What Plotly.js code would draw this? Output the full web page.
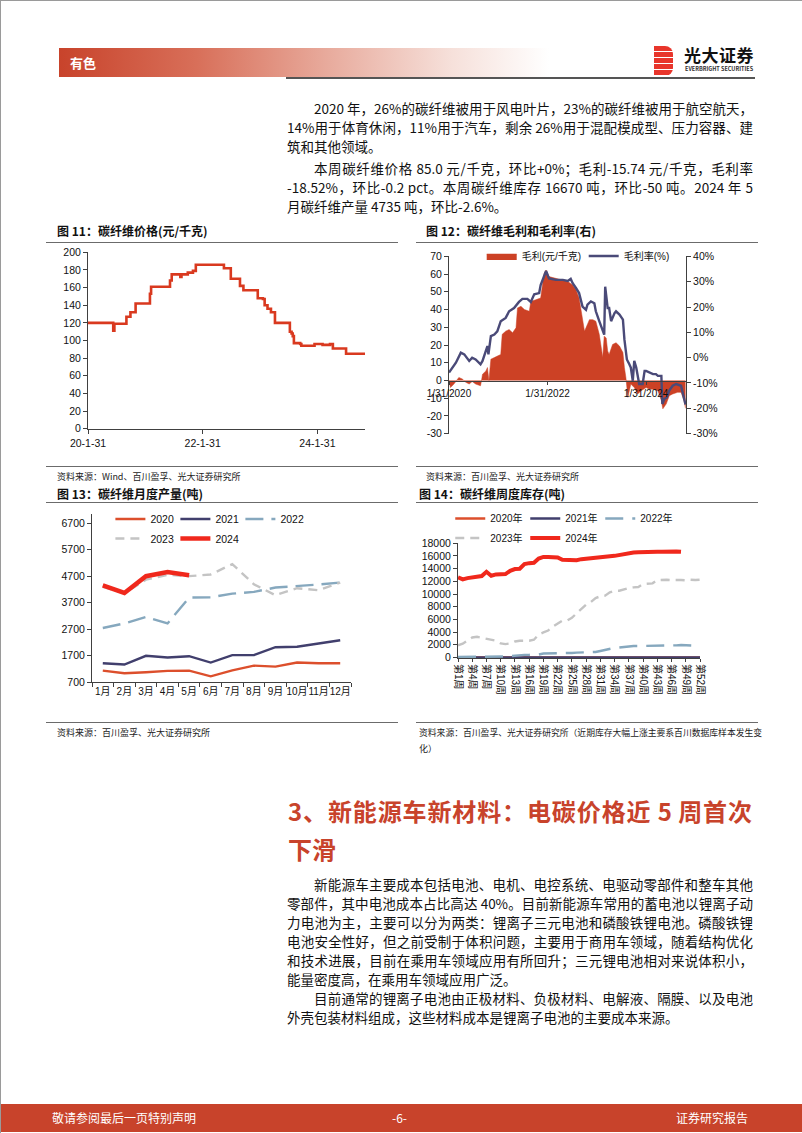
<!DOCTYPE html>
<html>
<head>
<meta charset="utf-8">
<script src="https://cdn.plot.ly/plotly-3.0.1.min.js"></script>
<style>
html, body { margin: 0; padding: 0; background: #fff; }
#page { position: relative; width: 802px; height: 1133px; overflow: hidden; box-sizing: border-box;
  border-left: 1px solid #9a9a9a; border-top: 1px solid #9a9a9a;
  font-family: "Noto Sans CJK SC", "Noto Sans", sans-serif; color: #111; }
.abs { position: absolute; }
.band { left: 58px; top: 47px; width: 490px; height: 29px;
  background: linear-gradient(90deg, #c8432b 0%, #d86f59 28%, #e8ab9d 55%, #f6e0da 80%, #fff 100%); }
.band span { position: absolute; left: 11px; top: 0; line-height: 29px; font-size: 13px; font-weight: 700; color: #fff; }
.logo { left: 653px; top: 45px; width: 19px; height: 30px;
  background: repeating-linear-gradient(180deg, #e8352b 0 5px, #fff 5px 6px); border-radius: 0 8px 8px 0; }
.ln { position: absolute; left: 286px; width: 466px; height: 19px; line-height: 19px; font-size: 13.5px;
  text-align: justify; text-align-last: justify; }
.ln.last { text-align-last: left; }
.ln.ind { padding-left: 27px; width: 439px; }
.head { position: absolute; left: 287px; width: 464px; font-size: 24px; font-weight: 700; color: #c8432b;
  height: 38px; line-height: 38px; text-align: justify; text-align-last: justify; }
.ctitle { position: absolute; font-size: 12px; font-weight: 700; height: 16px; line-height: 16px; }
.rule { position: absolute; height: 1px; background: #6b6b6b; }
.src { position: absolute; font-size: 9px; height: 13px; line-height: 13px; color: #222; white-space: nowrap; }
.chart { position: absolute; }
.foot { left: 0; top: 1103px; width: 802px; height: 28px; background: #c8432b; color: #fff; font-size: 12px; }
.foot span { position: absolute; top: 0; line-height: 28px; }
</style>
</head>
<body>
<div id="page">
  <div class="abs band"><span>有色</span></div>
  <div class="abs logo"></div>
  <div class="abs" style="left:683px;top:43px;font-size:17px;font-weight:700;line-height:22px;letter-spacing:0.5px;">光大证券</div>
  <div class="abs" style="left:684px;top:64px;font-size:5.5px;font-weight:700;line-height:8px;color:#333;">EVERBRIGHT SECURITIES</div>
  <div class="abs" style="left:285px;top:76px;width:469px;height:2px;background:#555;"></div>

  <div class="ln ind" style="top:98px;">2020 年，26%的碳纤维被用于风电叶片，23%的碳纤维被用于航空航天，</div>
  <div class="ln" style="top:117px;">14%用于体育休闲，11%用于汽车，剩余 26%用于混配模成型、压力容器、建</div>
  <div class="ln last" style="top:136px;">筑和其他领域。</div>
  <div class="ln ind" style="top:158px;">本周碳纤维价格 85.0 元/千克，环比+0%；毛利-15.74 元/千克，毛利率</div>
  <div class="ln" style="top:177px;">-18.52%，环比-0.2 pct。本周碳纤维库存 16670 吨，环比-50 吨。2024 年 5</div>
  <div class="ln last" style="top:196px;">月碳纤维产量 4735 吨，环比-2.6%。</div>

  <div class="ctitle" style="left:56px;top:222px;">图 11：碳纤维价格(元/千克)</div>
  <div class="rule" style="left:45px;top:241px;width:352px;"></div>
  <div id="c11" class="chart" style="left:45px;top:245px;width:340px;height:215px;"></div>
  <div class="rule" style="left:45px;top:465px;width:352px;"></div>
  <div class="src" style="left:56px;top:469px;">资料来源：Wind、百川盈孚、光大证券研究所</div>

  <div class="ctitle" style="left:425px;top:222px;">图 12：碳纤维毛利和毛利率(右)</div>
  <div class="rule" style="left:415px;top:241px;width:342px;"></div>
  <div id="c12" class="chart" style="left:415px;top:245px;width:320px;height:215px;"></div>
  <div class="rule" style="left:415px;top:465px;width:342px;"></div>
  <div class="src" style="left:425px;top:469px;">资料来源：百川盈孚、光大证券研究所</div>

  <div class="ctitle" style="left:56px;top:485px;">图 13：碳纤维月度产量(吨)</div>
  <div class="rule" style="left:45px;top:501px;width:352px;"></div>
  <div id="c13" class="chart" style="left:45px;top:505px;width:320px;height:210px;"></div>
  <div class="rule" style="left:45px;top:721px;width:352px;"></div>
  <div class="src" style="left:56px;top:725px;">资料来源：百川盈孚、光大证券研究所</div>

  <div class="ctitle" style="left:418px;top:485px;">图 14：碳纤维周度库存(吨)</div>
  <div class="rule" style="left:415px;top:501px;width:342px;"></div>
  <div id="c14" class="chart" style="left:415px;top:505px;width:300px;height:215px;"></div>
  <div class="rule" style="left:415px;top:721px;width:342px;"></div>
  <div class="src" style="left:418px;top:725px;font-size:8.8px;">资料来源：百川盈孚、光大证券研究所（近期库存大幅上涨主要系百川数据库样本发生变</div>
  <div class="src" style="left:418px;top:741px;">化）</div>

  <div class="head" style="top:791px;">3、新能源车新材料：电碳价格近 5 周首次</div>
  <div class="head" style="top:829px;text-align-last:left;">下滑</div>

  <div class="ln ind" style="top:874px;">新能源车主要成本包括电池、电机、电控系统、电驱动零部件和整车其他</div>
  <div class="ln" style="top:893px;">零部件，其中电池成本占比高达 40%。目前新能源车常用的蓄电池以锂离子动</div>
  <div class="ln" style="top:912px;">力电池为主，主要可以分为两类：锂离子三元电池和磷酸铁锂电池。磷酸铁锂</div>
  <div class="ln" style="top:931px;">电池安全性好，但之前受制于体积问题，主要用于商用车领域，随着结构优化</div>
  <div class="ln" style="top:950px;">和技术进展，目前在乘用车领域应用有所回升；三元锂电池相对来说体积小，</div>
  <div class="ln last" style="top:969px;">能量密度高，在乘用车领域应用广泛。</div>
  <div class="ln ind" style="top:988px;">目前通常的锂离子电池由正极材料、负极材料、电解液、隔膜、以及电池</div>
  <div class="ln last" style="top:1007px;">外壳包装材料组成，这些材料成本是锂离子电池的主要成本来源。</div>

  <div class="abs foot">
    <span style="left:51px;">敬请参阅最后一页特别声明</span>
    <span style="left:391px;">-6-</span>
    <span style="left:675px;">证券研究报告</span>
  </div>
</div>

<script>
// 图11 碳纤维价格 (x in decimal years)
const priceX = [2020.08,2020.43,2020.50,2020.52,2020.54,2020.72,2020.75,2020.82,2020.91,2021.14,
  2021.16,2021.18,2021.48,2021.51,2021.54,2021.67,2021.69,2021.71,2021.82,2021.91,
  2021.96,2022.43,2022.45,2022.56,2022.57,2022.70,2022.73,2022.79,2023.02,2023.04,
  2023.13,2023.16,2023.21,2023.27,2023.34,2023.57,2023.60,2023.63,2023.65,2023.67,
  2023.78,2023.80,2024.01,2024.03,2024.15,2024.17,2024.30,2024.35,2024.56,2024.58,2024.91];
const price = [120,120,120,111,119,119,127,132,142,142,
  153,161,161,168,175,175,172,175,177,179,
  186,186,182,182,170,170,162,157,157,148,
  147,140,136,132,120,120,110,108,105,97,
  96,94,94,96,96,95,96,91,91,85,85];
const priceTicks = [2020.08, 2022.08, 2024.08];
const priceTickText = ['20-1-31', '22-1-31', '24-1-31'];
const priceYTicks = [0,20,40,60,80,100,120,140,160,180,200];

// 图12 毛利 (元/千克) 和 毛利率 (%)
const marginX = [2020.08,2020.11,2020.18,2020.28,2020.35,2020.42,2020.49,2020.55,2020.62,2020.72,
  2020.74,2020.76,2020.83,2020.86,2020.89,2020.93,2021.00,2021.06,2021.13,2021.16,
  2021.23,2021.30,2021.37,2021.44,2021.47,2021.54,2021.61,2021.71,2021.74,2021.84,
  2021.94,2022.01,2022.05,2022.11,2022.25,2022.39,2022.49,2022.59,2022.66,2022.72,
  2022.77,2022.83,2022.86,2022.93,2023.00,2023.06,2023.13,2023.20,2023.23,2023.27,
  2023.30,2023.33,2023.40,2023.47,2023.54,2023.61,2023.64,2023.67,2023.71,2023.77,
  2023.84,2023.91,2023.98,2024.08,2024.15,2024.22,2024.32,2024.39,2024.42,2024.49,
  2024.55,2024.62,2024.72,2024.79,2024.85,2024.88];
const margin = [0,-4,-2,1.7,0.8,-1,-2,-0.6,-2,-3,
  0,3.5,5.4,7.3,0,12,12.9,13.8,14.7,26,
  27.8,28.7,26.9,29.7,40.9,41.8,40,39,44.6,45.5,
  46.5,60.4,62.3,58.6,57.6,56.7,55.8,53.9,51,46.5,
  37,27.8,29.7,34.3,34.3,33.4,26,12.9,25,24,
  16.6,14.7,20.3,21.3,19.4,15.7,7.3,1.7,-9.5,-2,
  -4,-7.6,-5.8,-4,-4.9,-4.9,-5.8,-11.4,-16,-13.2,
  -8.6,-7.6,-6.7,-6.7,-11.4,-15.7];
const rateX = [2020.08,2020.15,2020.22,2020.32,2020.39,2020.49,2020.55,2020.62,2020.72,2020.76,
  2020.83,2020.86,2020.88,2020.93,2021.00,2021.06,2021.13,2021.23,2021.30,2021.40,
  2021.50,2021.57,2021.67,2021.74,2021.81,2021.91,2021.94,2022.01,2022.05,2022.11,
  2022.25,2022.39,2022.49,2022.55,2022.59,2022.66,2022.72,2022.79,2022.86,2022.89,
  2022.96,2023.03,2023.06,2023.13,2023.20,2023.23,2023.25,2023.28,2023.30,2023.33,
  2023.37,2023.44,2023.47,2023.54,2023.61,2023.64,2023.69,2023.74,2023.77,2023.81,
  2023.84,2023.88,2023.94,2024.01,2024.05,2024.08,2024.15,2024.22,2024.28,2024.32,
  2024.39,2024.41,2024.45,2024.50,2024.55,2024.62,2024.69,2024.79,2024.83,2024.88];
const rate = [-5.9,-3.9,-2,2,1.3,-1.3,0,-0.7,-2.6,-1.3,
  3.3,4.6,1.3,8.5,9.1,10.4,14.4,15.7,18.3,19.6,
  22,23.2,23.2,22,25,25.5,28.7,32,34.2,31.3,
  30.7,30.7,30.3,31.1,29.4,27.4,25.5,20.2,18.9,20.9,
  22.2,21.5,18.3,14.4,10.4,9.1,28,20.9,19.6,19.6,
  14.4,17.6,18.3,17,15,7.2,-0.7,-2.6,-3.9,-9.1,
  -1.3,-3.9,-10.4,-10.4,-5.2,-5.2,-5.9,-6.5,-6.5,-7.2,
  -7.2,-18.3,-16.3,-15.7,-13,-11.1,-10.4,-11.1,-14.4,-18.5];
const marginTicks = [2020.08, 2022.08, 2024.08];
const marginTickText = ['1/31/2020', '1/31/2022', '1/31/2024'];
const leftTicks = [-30,-20,-10,0,10,20,30,40,50,60,70];
const leftTickText = ['-30','-20','-10','0','10','20','30','40','50','60','70'];
const rightTicks = [-30,-20,-10,0,10,20,30,40];
const rightTickText = ['-30%','-20%','-10%','0%','10%','20%','30%','40%'];

// 图13 月度产量 (吨)
const months = ['1月','2月','3月','4月','5月','6月','7月','8月','9月','10月','11月','12月'];
const prod2020 = [1130,1030,1070,1120,1130,915,1140,1320,1280,1435,1410,1410];
const prod2021 = [1410,1360,1690,1625,1675,1435,1715,1715,2015,2030,2155,2280];
const prod2022 = [2740,2915,3155,2915,3890,3900,4040,4105,4270,4320,4385,4460];
const prod2023 = [4300,4060,4570,4750,4700,4765,5155,4395,3980,4245,4170,4460];
const prod2024 = [4350,4065,4700,4860,4735];
const prodTicks = [700,1700,2700,3700,4700,5700,6700];

// 图14 周度库存 (吨)
const weeks = [1,2,3,4,5,6,7,8,9,10,11,12,13,14,15,16,17,18,19,20,21,22,23,24,25,26,
  27,28,29,30,31,32,33,34,35,36,37,38,39,40,41,42,43,44,45,46,47,48,49,50,51,52];
const inv2020 = [0,0,0,0,0,0,0,0,0,0,0,0,0,0,0,0,0,0,0,0,0,0,0,0,0,0,
  0,0,0,0,0,0,0,0,0,0,0,0,0,0,0,0,0,0,0,0,0,0,0,0,0,0];
const inv2021 = [0,0,0,0,0,0,0,0,0,0,0,0,0,0,0,0,0,0,0,0,0,0,0,0,0,0,
  0,0,0,0,0,0,0,0,0,0,0,0,0,0,0,0,0,0,0,0,0,0,0,0,0,0];
const inv2022 = [50,50,50,50,50,50,50,50,50,50,150,200,300,400,400,400,400,450,600,600,
  600,600,650,700,700,750,750,800,800,850,1000,1200,1400,1500,1550,1650,1750,1800,1800,1800,
  1850,1900,1900,1900,1900,1900,1900,1950,1950,1950,1850,1750];
const inv2023 = [1890,2150,2670,3140,3250,3090,2930,2880,2620,2200,2090,2200,2510,2620,2620,2620,2780,3610,3930,4240,
  4870,5390,5810,5810,6230,6960,7640,8330,8740,9370,9630,9740,10260,10520,10520,10790,10940,11050,11100,11570,
  11570,11680,12200,12250,12250,12200,12250,12200,12150,12250,12200,12250];
const inv2024 = [12620,12300,12510,12670,12780,12830,13500,12880,13090,13090,13140,13670,13930,13980,14710,14870,14920,15600,15860,15860,
  15860,15760,15390,15340,15240,15340,15500,15600,15650,15650,15760,15860,15970,16020,16180,16340,16440,16550,16600,16650,
  16600,16650,16650,16650,16700,16750,16720,16670];
const weekTicks = [1,4,7,10,13,16,19,22,25,28,31,34,37,40,43,46,49,52];
const weekTickText = ['第1周','第4周','第7周','第10周','第13周','第16周','第19周','第22周','第25周',
  '第28周','第31周','第34周','第37周','第40周','第43周','第46周','第49周','第52周'];
const invTicks = [0,2000,4000,6000,8000,10000,12000,14000,16000,18000];

const FONT = 'Liberation Sans, Arial, Noto Sans CJK SC, sans-serif';
const AXIS = {
  showline: true, linecolor: '#404040', linewidth: 1,
  ticks: 'outside', ticklen: 4, tickcolor: '#404040', tickwidth: 1,
  showgrid: false, zeroline: false, fixedrange: true, automargin: false,
  tickfont: { size: 10.5, color: '#111', family: FONT },
};
const BASE = {
  paper_bgcolor: 'rgba(0,0,0,0)', plot_bgcolor: 'rgba(0,0,0,0)',
  font: { family: FONT, color: '#111' },
};
const CFG = { staticPlot: true, displayModeBar: false };

Plotly.newPlot('c11', [{
  x: priceX, y: price, type: 'scatter', mode: 'lines',
  line: { color: '#d9391f', width: 2.6, shape: 'hv' },
}], {
  ...BASE, width: 340, height: 215, showlegend: false,
  margin: { l: 42, r: 21, t: 6, b: 32, autoexpand: false },
  xaxis: { ...AXIS, range: [2020.08, 2024.91], tickvals: priceTicks, ticktext: priceTickText },
  yaxis: { ...AXIS, range: [-0.4, 200.4], tickvals: priceYTicks },
}, CFG);

Plotly.newPlot('c12', [{
  x: marginX, y: margin, name: '毛利(元/千克)', type: 'scatter', mode: 'lines',
  fill: 'tozeroy', fillcolor: '#cc4125', line: { color: '#cc4125', width: 0.5 },
}, {
  x: rateX, y: rate, name: '毛利率(%)', type: 'scatter', mode: 'lines', yaxis: 'y2',
  line: { color: '#4a4a78', width: 2.4 },
}], {
  ...BASE, width: 320, height: 215,
  margin: { l: 33, r: 50, t: 10, b: 27, autoexpand: false },
  xaxis: { ...AXIS, range: [2020.08, 2024.89], anchor: 'free', position: 0.3, ticklen: 3,
    tickvals: marginTicks, ticktext: marginTickText, tickfont: { ...AXIS.tickfont, size: 10 } },
  yaxis: { ...AXIS, range: [-30.2, 70.2], tickvals: leftTicks, ticktext: leftTickText },
  yaxis2: { ...AXIS, range: [-30.14, 40.14], overlaying: 'y', side: 'right', tickvals: rightTicks, ticktext: rightTickText },
  legend: { orientation: 'h', x: 0.138, xanchor: 'left', y: 1.0, yanchor: 'middle',
    bgcolor: 'rgba(0,0,0,0)', font: { size: 10, family: FONT }, entrywidth: 57, itemwidth: 30 },
}, CFG);

Plotly.newPlot('c13', [
  { x: months, y: prod2020, name: '2020', type: 'scatter', mode: 'lines', line: { color: '#dc4f2c', width: 2.4 } },
  { x: months, y: prod2021, name: '2021', type: 'scatter', mode: 'lines', line: { color: '#413f6d', width: 2.4 } },
  { x: months, y: prod2022, name: '2022', type: 'scatter', mode: 'lines', line: { color: '#86a8be', width: 2.4, dash: '18px,8px' } },
  { x: months, y: prod2023, name: '2023', type: 'scatter', mode: 'lines', legend: 'legend2', line: { color: '#c4c4c4', width: 2.4, dash: '9px,6px' } },
  { x: months, y: prod2024, name: '2024', type: 'scatter', mode: 'lines', legend: 'legend2', line: { color: '#f0281c', width: 4.5 } },
], {
  ...BASE, width: 320, height: 210,
  margin: { l: 46, r: 15, t: 8, b: 34, autoexpand: false },
  xaxis: { ...AXIS, type: 'category', categoryarray: months, range: [-0.5, 11.5], tickson: 'boundaries',
    tickangle: 0, tickfont: { ...AXIS.tickfont, size: 10 } },
  yaxis: { ...AXIS, range: [700, 7050], tickvals: prodTicks },
  legend: { orientation: 'h', x: 0.071, xanchor: 'left', y: 0.97, yanchor: 'middle',
    bgcolor: 'rgba(0,0,0,0)', font: { size: 10.5, family: FONT }, entrywidth: 20, itemwidth: 30 },
  legend2: { orientation: 'h', x: 0.071, xanchor: 'left', y: 0.854, yanchor: 'middle',
    bgcolor: 'rgba(0,0,0,0)', font: { size: 10.5, family: FONT }, entrywidth: 20, itemwidth: 30 },
}, CFG);

Plotly.newPlot('c14', [
  { x: weeks, y: inv2020, name: '2020年', type: 'scatter', mode: 'lines', line: { color: '#dc4f2c', width: 2.4 } },
  { x: weeks, y: inv2021, name: '2021年', type: 'scatter', mode: 'lines', line: { color: '#413f6d', width: 2.4 } },
  { x: weeks, y: inv2022, name: '2022年', type: 'scatter', mode: 'lines', line: { color: '#86a8be', width: 2.4, dash: '18px,9px' } },
  { x: weeks, y: inv2023, name: '2023年', type: 'scatter', mode: 'lines', legend: 'legend2', line: { color: '#c4c4c4', width: 2.4, dash: '9px,6px' } },
  { x: weeks, y: inv2024, name: '2024年', type: 'scatter', mode: 'lines', legend: 'legend2', line: { color: '#f0281c', width: 4 } },
], {
  ...BASE, width: 300, height: 215,
  margin: { l: 42, r: 16, t: 37, b: 63, autoexpand: false },
  xaxis: { ...AXIS, range: [1, 52], tickvals: weekTicks, ticktext: weekTickText, tickangle: 90, ticklen: 3,
    tickfont: { ...AXIS.tickfont, size: 10 } },
  yaxis: { ...AXIS, range: [-100, 18050], tickvals: invTicks, tickformat: 'd' },
  legend: { orientation: 'h', x: -0.032, xanchor: 'left', y: 1.213, yanchor: 'middle',
    bgcolor: 'rgba(0,0,0,0)', font: { size: 10, family: FONT }, entrywidth: 30, itemwidth: 30 },
  legend2: { orientation: 'h', x: -0.032, xanchor: 'left', y: 1.043, yanchor: 'middle',
    bgcolor: 'rgba(0,0,0,0)', font: { size: 10, family: FONT }, entrywidth: 30, itemwidth: 30 },
}, CFG);
</script>
</body>
</html>
